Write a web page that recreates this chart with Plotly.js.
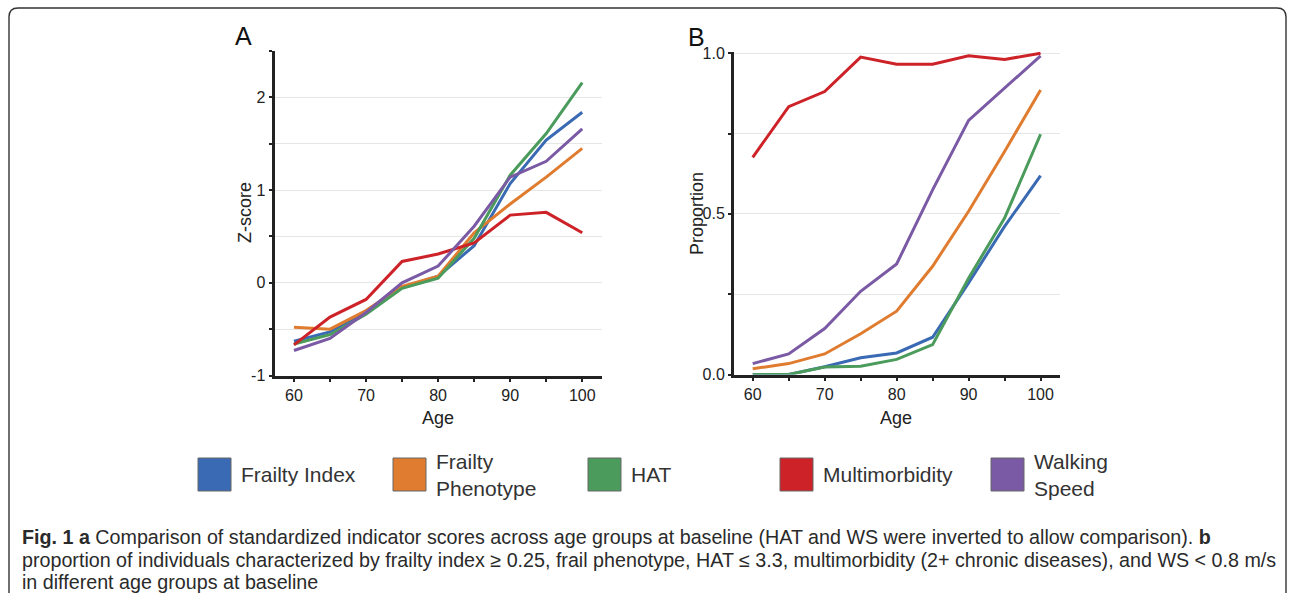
<!DOCTYPE html>
<html>
<head>
<meta charset="utf-8">
<script src="https://cdn.plot.ly/plotly-3.0.1.min.js"></script>
<style>html,body{margin:0;padding:0;background:#fff;}#chart{width:1292px;height:599px;}</style>
</head>
<body>
<div id="chart"></div>
<script>
// ---- data ----
const ages = [60, 65, 70, 75, 80, 85, 90, 95, 100];
const xTickVals = [60, 65, 70, 75, 80, 85, 90, 95, 100];
const xTickText = ['60', '', '70', '', '80', '', '90', '', '100'];
const seriesNames = ['Frailty Index', 'Frailty Phenotype', 'HAT', 'Multimorbidity', 'Walking Speed'];
const legendLabels = ['Frailty Index', 'Frailty<br>Phenotype', 'HAT', 'Multimorbidity', 'Walking<br>Speed'];
const seriesColors = ['#3a6ab3', '#df7c2f', '#4a9b5c', '#cd2228', '#7a5aa5'];

// Panel A: Z-scores
const fiA  = [-0.63, -0.53, -0.31, -0.05, 0.07, 0.40, 1.07, 1.54, 1.84];
const fpA  = [-0.48, -0.50, -0.30, -0.04, 0.07, 0.54, 0.85, 1.14, 1.45];
const hatA = [-0.66, -0.56, -0.34, -0.06, 0.05, 0.48, 1.16, 1.61, 2.16];
const mmA  = [-0.67, -0.37, -0.18, 0.23, 0.31, 0.43, 0.73, 0.76, 0.54];
const wsA  = [-0.73, -0.60, -0.32, 0.00, 0.18, 0.61, 1.14, 1.31, 1.66];
const yTickValsA = [-1, -0.5, 0, 0.5, 1, 1.5, 2, 2.5];
const yTickTextA = ['-1', '', '0', '', '1', '', '2', ''];

// Panel B: proportions
const fiB  = [0.000, 0.000, 0.024, 0.052, 0.067, 0.116, 0.285, 0.461, 0.619];
const fpB  = [0.018, 0.034, 0.064, 0.127, 0.197, 0.337, 0.508, 0.694, 0.886];
const hatB = [0.000, 0.000, 0.023, 0.026, 0.047, 0.093, 0.300, 0.487, 0.748];
const mmB  = [0.676, 0.834, 0.881, 0.988, 0.966, 0.966, 0.992, 0.981, 1.000];
const wsB  = [0.034, 0.064, 0.143, 0.259, 0.344, 0.575, 0.791, 0.891, 0.992];
const yTickValsB = [0, 0.25, 0.5, 0.75, 1];
const yTickTextB = ['0.0', '', '0.5', '', '1.0'];

const captionLines = [
  '<b>Fig. 1 a</b> Comparison of standardized indicator scores across age groups at baseline (HAT and WS were inverted to allow comparison). <b>b</b>',
  'proportion of individuals characterized by frailty index ≥ 0.25, frail phenotype, HAT ≤ 3.3, multimorbidity (2+ chronic diseases), and WS &lt; 0.8 m/s',
  'in different age groups at baseline'
];

// ---- layout helpers ----
const W = 1292, H = 599;
const px = v => v / W;
const py = v => 1 - v / H;
const FONT = 'Liberation Sans, Arial, sans-serif';

const seriesA = [fiA, fpA, hatA, mmA, wsA];
const seriesB = [fiB, fpB, hatB, mmB, wsB];
const traces = [];
seriesA.forEach((s, i) => traces.push({
  x: ages, y: s, type: 'scatter', mode: 'lines', name: seriesNames[i],
  line: {color: seriesColors[i], width: 3}, xaxis: 'x', yaxis: 'y', showlegend: false
}));
seriesB.forEach((s, i) => traces.push({
  x: ages, y: s, type: 'scatter', mode: 'lines', name: seriesNames[i],
  line: {color: seriesColors[i], width: 3}, xaxis: 'x2', yaxis: 'y2', showlegend: false
}));

const xCommon = {
  tickvals: xTickVals, ticktext: xTickText, ticks: 'outside', ticklen: 3, tickwidth: 2,
  tickcolor: '#222', showline: true, linewidth: 3, linecolor: '#222', showgrid: false,
  zeroline: false, tickfont: {family: FONT, size: 16, color: '#222'}, fixedrange: true
};
const yCommon = {
  ticks: 'outside', ticklen: 3, tickwidth: 2, tickcolor: '#222', showline: true,
  linewidth: 3, linecolor: '#222', showgrid: true, gridcolor: '#e6e6e6', gridwidth: 1,
  zeroline: false, tickfont: {family: FONT, size: 16, color: '#222'}, fixedrange: true
};

function label(text, x, y, size, extra) {
  return Object.assign({text: text, x: px(x), y: py(y), xref: 'paper', yref: 'paper', showarrow: false,
    xanchor: 'center', yanchor: 'middle', font: {family: FONT, size: size, color: '#222'}}, extra || {});
}
const annotations = [
  label('A', 244, 36, 25, {font: {family: FONT, size: 25, color: '#111'}}),
  label('B', 696, 37, 25, {font: {family: FONT, size: 25, color: '#111'}}),
  label('Z-score', 245, 213, 18, {textangle: -90}),
  label('Proportion', 697, 214, 18, {textangle: -90}),
  label('Age', 438, 418, 18),
  label('Age', 896, 418, 18)
];

// legend (squares + labels)
const legendSquareX = [198, 393, 588, 780, 991];
const shapes = [];
seriesNames.forEach((n, i) => {
  const x0 = legendSquareX[i];
  shapes.push({type: 'rect', xref: 'paper', yref: 'paper', x0: px(x0), x1: px(x0 + 33), y0: py(491), y1: py(458),
    fillcolor: seriesColors[i], line: {color: '#666', width: 1}});
  annotations.push(label(legendLabels[i], x0 + 41, 474.5, 21,
    {xanchor: 'left', align: 'left', font: {family: FONT, size: 21, color: '#333'}}));
});

// caption
const captionY = [537, 560, 582];
captionLines.forEach((t, i) => annotations.push(label(t, 20, captionY[i], 20,
  {xanchor: 'left', align: 'left', font: {family: FONT, size: 19.7, color: '#2a2a2a'}})));

// rounded border around the figure
const bx0 = 9, by0 = 8, bx1 = 1286, by1 = 593, r = 9;
const P = (x, y) => px(x) + ',' + py(y);
shapes.push({type: 'path', xref: 'paper', yref: 'paper', line: {color: '#333', width: 1.4},
  path: 'M' + P(bx0, by1) + ' L' + P(bx0, by0 + r) + ' Q' + P(bx0, by0) + ' ' + P(bx0 + r, by0) +
        ' L' + P(bx1 - r, by0) + ' Q' + P(bx1, by0) + ' ' + P(bx1, by0 + r) + ' L' + P(bx1, by1)});

const layout = {
  width: W, height: H, margin: {l: 0, r: 0, t: 0, b: 0},
  paper_bgcolor: '#fff', plot_bgcolor: '#fff', showlegend: false,
  xaxis: Object.assign({}, xCommon, {domain: [px(274.5), px(601.7)], range: [57.3, 102.7], anchor: 'y'}),
  yaxis: Object.assign({}, yCommon, {domain: [py(375.5), py(51)], range: [-1, 2.5], tickvals: yTickValsA, ticktext: yTickTextA, anchor: 'x'}),
  xaxis2: Object.assign({}, xCommon, {domain: [px(734), px(1060)], range: [57.4, 102.7], anchor: 'y2'}),
  yaxis2: Object.assign({}, yCommon, {domain: [py(374.5), py(52)], range: [0, 1.004], tickvals: yTickValsB, ticktext: yTickTextB, anchor: 'x2'}),
  annotations: annotations, shapes: shapes
};

Plotly.newPlot('chart', traces, layout, {staticPlot: true, displayModeBar: false});
</script>
</body>
</html>
